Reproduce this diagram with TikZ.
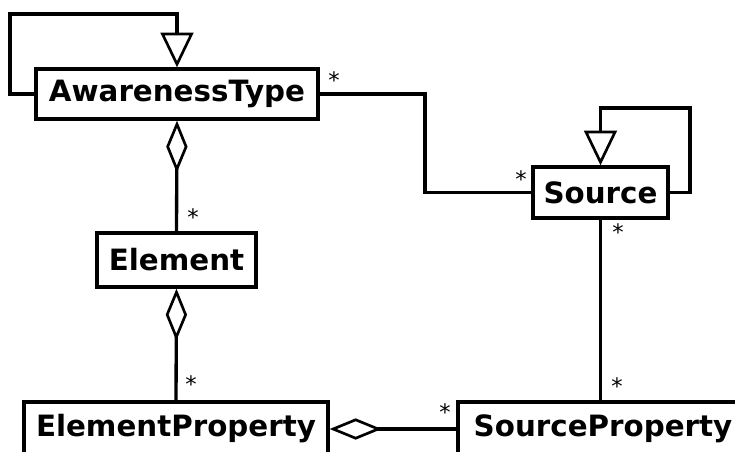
\documentclass[tikz,border=0pt]{standalone}
\usepackage{fontspec}
\setmainfont{DejaVu Sans}
\usetikzlibrary{arrows.meta}

\tikzset{every picture/.style={line width=2.5pt}}
\tikzset{
  umlclass/.style={draw, inner sep=1pt, font=\bfseries\fontsize{22}{24}\selectfont},
  multiplicity/.style={inner sep=0pt, font=\fontsize{17}{17}\selectfont},
  generalization/.style={-{Triangle[open, length=26pt, width=24.5pt, line width=2pt]}},
  aggregation/.style={-{Diamond[open, length=39pt, width=16pt, line width=2pt]}},
}

\begin{document}
\begin{tikzpicture}[x=0.75pt,y=0.75pt,yscale=-1,xscale=1]
        \useasboundingbox (0,0) rectangle (735,451);
        \clip (0,0) rectangle (735,451);

        % Classes
        \node [umlclass, minimum width=211.5pt, minimum height=37.5pt] (awtype) at (177,94) {AwarenessType};
        \node [umlclass, minimum width=119.25pt, minimum height=40.5pt] (element) at (176.5,260) {Element};
        \node [umlclass, minimum width=101.25pt, minimum height=38.25pt] (source) at (600.5,192.5) {Source};
        \node [umlclass, minimum width=228pt, minimum height=40.5pt] (elprop) at (176,429) {ElementProperty};
        \node [umlclass, minimum width=217.5pt, minimum height=40.5pt] (srcprop) at (603,429) {SourceProperty};

        % Bend points
        \coordinate (awloop) at (10,14);
        \coordinate (srcloop) at (690,108);
        \coordinate (awbend) at (425,140);

        % Generalization loops
        \draw [generalization] (awtype.west) -| (awloop) -| (awtype.north);
        \draw [generalization] (source.east) -| (srcloop) -| (source.north);

        % Associations
        \draw (awtype.east) -| (awbend) |- (source.west);
        \draw (source.south) -- (srcprop.north -| source.south);

        % Aggregations
        \draw [aggregation] (element.north) -- (awtype.south);
        \draw [aggregation] (elprop.north) -- (element.south);
        \draw [aggregation] (srcprop.west) -- (elprop.east);

        % Multiplicities
        \node [multiplicity] (m1) at (334,80) {*};
        \node [multiplicity] (m2) at (521,179) {*};
        \node [multiplicity] (m3) at (193,217) {*};
        \node [multiplicity] (m4) at (191,384) {*};
        \node [multiplicity] (m5) at (618,232) {*};
        \node [multiplicity] (m6) at (617,386) {*};
        \node [multiplicity] (m7) at (445,412) {*};

\end{tikzpicture}
\end{document}
